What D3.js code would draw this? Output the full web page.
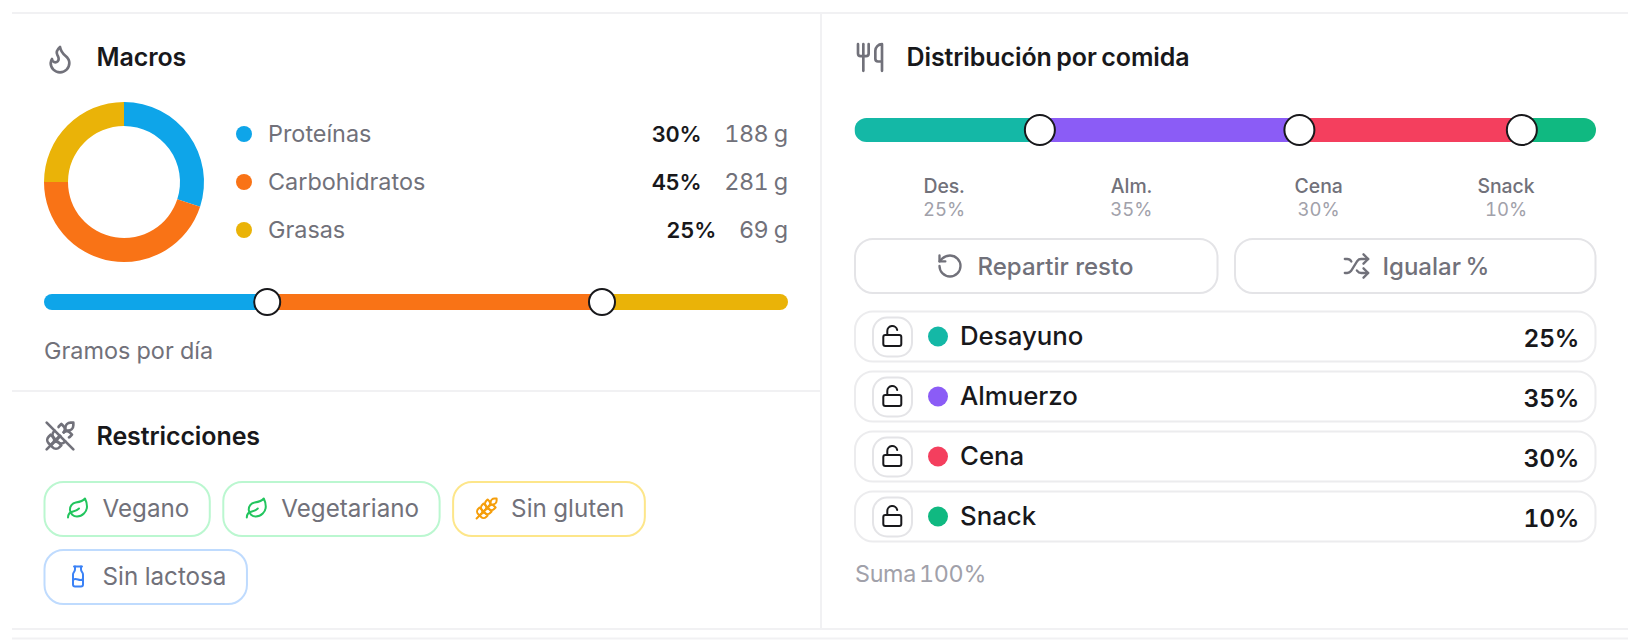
<!DOCTYPE html>
<html>
<head>
<meta charset="utf-8">
<script src="https://cdn.jsdelivr.net/npm/d3@7"></script>
<style>
  html, body { margin: 0; padding: 0; background: #fff; }
  svg { display: block; }
  text { font-family: Inter, sans-serif; font-variant-numeric: tabular-nums; }
</style>
</head>
<body>
<div id="chart"></div>
<script>
// Data
const macroNames = ["Proteínas", "Carbohidratos", "Grasas"];
const macroPct = [30, 45, 25];
const macroGrams = [188, 281, 69];
const macroColors = ["#0ea5e9", "#f97316", "#eab308"];

const mealNames = ["Desayuno", "Almuerzo", "Cena", "Snack"];
const mealShort = ["Des.", "Alm.", "Cena", "Snack"];
const mealPct = [25, 35, 30, 10];
const mealColors = ["#14b8a6", "#8b5cf6", "#f43f5e", "#10b981"];

const chipLabels = ["Vegano", "Vegetariano", "Sin gluten", "Sin lactosa"];
const chipIcons = ["leaf", "leaf", "wheat", "milk"];
const chipIconColors = ["#22c55e", "#22c55e", "#f59e0b", "#3b82f6"];
const chipBorders = ["#bbf7d0", "#bbf7d0", "#fde68a", "#bfdbfe"];

const icons = {
  flame: ["M8.5 14.5A2.5 2.5 0 0 0 11 12c0-1.38-.5-2-1-3-1.072-2.143-.224-4.054 2-6 .5 2.5 2 4.9 4 6.5 2 1.6 3 3.5 3 5.5a7 7 0 1 1-14 0c0-1.153.433-2.294 1-3a2.5 2.5 0 0 0 2.5 2.5z"],
  utensils: ["M3 2v7c0 1.1.9 2 2 2h4a2 2 0 0 0 2-2V2", "M7 2v20", "M21 15V2a5 5 0 0 0-5 5v6c0 1.1.9 2 2 2h3Zm0 0v7"],
  wheatOff: ["m2 22 10-10", "m16 8-1.17 1.17", "M3.47 12.53 5 11l1.53 1.53a3.5 3.5 0 0 1 0 4.94L5 19l-1.53-1.53a3.5 3.5 0 0 1 0-4.94Z", "m8 8-.53.53a3.5 3.5 0 0 0 0 4.94L9 15l1.53-1.53c.55-.55.88-1.25.98-1.97", "M10.91 5.26c.15-.26.34-.51.56-.73L13 3l1.53 1.53a3.5 3.5 0 0 1 .28 4.62", "M20 2h2v2a4 4 0 0 1-4 4h-2V6a4 4 0 0 1 4-4Z", "M11.47 17.47 13 19l-1.53 1.53a3.5 3.5 0 0 1-4.94 0L5 19l1.53-1.53a3.5 3.5 0 0 1 4.94 0Z", "m16 16-.53.53a3.5 3.5 0 0 1-4.94 0L9 15l1.53-1.53a3.49 3.49 0 0 1 1.97-.98", "M18.74 13.09c.26-.15.51-.34.73-.56L21 11l-1.53-1.53a3.5 3.5 0 0 0-4.62-.28", "M2 2l20 20"],
  wheat: ["M2 22 16 8", "M3.47 12.53 5 11l1.53 1.53a3.5 3.5 0 0 1 0 4.94L5 19l-1.53-1.53a3.5 3.5 0 0 1 0-4.94Z", "M7.47 8.53 9 7l1.53 1.53a3.5 3.5 0 0 1 0 4.94L9 15l-1.53-1.53a3.5 3.5 0 0 1 0-4.94Z", "M11.47 4.53 13 3l1.53 1.53a3.5 3.5 0 0 1 0 4.94L13 11l-1.53-1.53a3.5 3.5 0 0 1 0-4.94Z", "M20 2h2v2a4 4 0 0 1-4 4h-2V6a4 4 0 0 1 4-4Z", "M11.47 17.47 13 19l-1.53 1.53a3.5 3.5 0 0 1-4.94 0L5 19l1.53-1.53a3.5 3.5 0 0 1 4.94 0Z", "M15.47 13.47 17 15l-1.53 1.53a3.5 3.5 0 0 1-4.94 0L9 15l1.53-1.53a3.5 3.5 0 0 1 4.94 0Z", "M19.47 9.47 21 11l-1.53 1.53a3.5 3.5 0 0 1-4.94 0L13 11l1.53-1.53a3.5 3.5 0 0 1 4.94 0Z"],
  leaf: ["M11 20A7 7 0 0 1 9.8 6.1C15.5 5 17 4.48 19 2c1 2 2 4.18 2 8 0 5.5-4.78 10-10 10Z", "M2 21c0-3 1.85-5.36 5.08-6C9.5 14.52 12 13 13 12"],
  milk: ["M8 2h8", "M9 2v2.789a4 4 0 0 1-.672 2.219l-.656.984A4 4 0 0 0 7 10.212V20a2 2 0 0 0 2 2h6a2 2 0 0 0 2-2v-9.789a4 4 0 0 0-.672-2.219l-.656-.984A4 4 0 0 1 15 4.788V2", "M7 15a6.472 6.472 0 0 1 5 0 6.47 6.47 0 0 0 5 0"],
  rotate: ["M3 12a9 9 0 1 0 9-9 9.75 9.75 0 0 0-6.74 2.74L3 8", "M3 3v5h5"],
  shuffle: ["m18 14 4 4-4 4", "m18 2 4 4-4 4", "M2 18h1.973a4 4 0 0 0 3.3-1.7l5.454-8.6a4 4 0 0 1 3.3-1.7H22", "M2 6h1.972a4 4 0 0 1 3.6 2.2", "M22 18h-6.041a4 4 0 0 1-3.3-1.8l-.359-.45"],
  lockOpen: ["M5 11h14a2 2 0 0 1 2 2v7a2 2 0 0 1-2 2H5a2 2 0 0 1-2-2v-7a2 2 0 0 1 2-2Z", "M7 11V7a5 5 0 0 1 9.9-1"]
};

const ink = "#18181b", gray = "#71717a", faint = "#a1a1aa", rule = "#f1f1f3", edge = "#ececee";

const svg = d3.select("#chart").append("svg")
    .attr("width", 1640)
    .attr("height", 642);

svg.append("rect").attr("width", 1640).attr("height", 642).attr("fill", "#fff");

function drawIcon(name, cx, cy, size, color) {
  const k = size / 24;
  const g = svg.append("g")
      .attr("transform", `translate(${cx - size / 2},${cy - size / 2}) scale(${k})`)
      .attr("fill", "none")
      .attr("stroke", color)
      .attr("stroke-width", 2)
      .attr("stroke-linecap", "round")
      .attr("stroke-linejoin", "round");
  g.selectAll("path").data(icons[name]).join("path").attr("d", d => d);
}

function label(txt, x, y, size, color, weight, anchor) {
  return svg.append("text")
      .attr("x", x)
      .attr("y", y)
      .attr("dy", "0.35em")
      .attr("font-size", size)
      .attr("font-weight", weight || 400)
      .attr("fill", color)
      .attr("text-anchor", anchor || "start")
      .text(txt);
}

function title(txt, x, y) {
  return label(txt, x, y, 25, ink, 600)
      .attr("letter-spacing", -0.1)
      .attr("word-spacing", -2);
}

// Stacked pill with one handle on each inner boundary
function splitBar(id, values, colors, x0, x1, cy, h, handleR) {
  const x = d3.scaleLinear().domain([0, d3.sum(values)]).range([x0, x1]);
  const stops = [0, ...d3.cumsum(values)];
  svg.append("clipPath").attr("id", id)
    .append("rect")
      .attr("x", x0).attr("y", cy - h / 2)
      .attr("width", x1 - x0).attr("height", h)
      .attr("rx", h / 2);
  svg.append("g").attr("clip-path", `url(#${id})`)
    .selectAll("rect")
    .data(values)
    .join("rect")
      .attr("x", (d, i) => x(stops[i]))
      .attr("y", cy - h / 2)
      .attr("width", d => x(d) - x(0))
      .attr("height", h)
      .attr("fill", (d, i) => colors[i]);
  svg.append("g")
    .selectAll("circle")
    .data(stops.slice(1, -1))
    .join("circle")
      .attr("cx", d => x(d))
      .attr("cy", cy)
      .attr("r", handleR)
      .attr("fill", "#fff")
      .attr("stroke", ink)
      .attr("stroke-width", 2);
}

// Frame lines
const frame = [[12, 13, 1628, 13], [12, 391, 821, 391], [12, 629, 1628, 629], [12, 638.5, 1628, 638.5], [821, 13, 821, 629]];
svg.append("g").selectAll("line").data(frame).join("line")
    .attr("x1", d => d[0]).attr("y1", d => d[1])
    .attr("x2", d => d[2]).attr("y2", d => d[3])
    .attr("stroke", rule).attr("stroke-width", 2);

// Macros panel
drawIcon("flame", 60, 59, 32, gray);
title("Macros", 96.5, 57);

const pie = d3.pie().sort(null).value(d => d);
const arc = d3.arc().innerRadius(56).outerRadius(80);
svg.append("g").attr("transform", "translate(124,182)")
  .selectAll("path")
  .data(pie(macroPct))
  .join("path")
    .attr("d", arc)
    .attr("fill", (d, i) => macroColors[i]);

const macroY = d3.scalePoint().domain(macroNames).range([134, 230]);
macroNames.forEach((name, i) => {
  const y = macroY(name);
  svg.append("circle").attr("cx", 244).attr("cy", y).attr("r", 8).attr("fill", macroColors[i]);
  label(name, 268, y, 23.4, gray);
  const grams = label(macroGrams[i] + " g", 787.5, y, 23.4, gray, 400, "end").attr("letter-spacing", -0.6);
  const gramW = grams.node().getComputedTextLength();
  label(macroPct[i] + "%", 787.5 - gramW - 23, y, 22, ink, 600, "end").attr("letter-spacing", -0.3);
});

splitBar("macro-clip", macroPct, macroColors, 44, 788, 302, 16, 13);
label("Gramos por día", 44, 351, 23.4, gray);

// Restrictions panel
drawIcon("wheatOff", 60, 436, 32, gray);
title("Restricciones", 96.5, 436);

let chipX = 44.5, chipY = 482;
chipLabels.forEach((txt, i) => {
  if (i == 3) { chipX = 44.5; chipY = 550; }
  const t = label(txt, chipX + 58, chipY + 26.5, 24.2, gray);
  const w = 58 + t.node().getComputedTextLength() + 20.5;
  svg.append("rect")
      .attr("x", chipX).attr("y", chipY)
      .attr("width", w).attr("height", 54)
      .attr("rx", 19)
      .attr("fill", "none")
      .attr("stroke", chipBorders[i])
      .attr("stroke-width", 2);
  drawIcon(chipIcons[i], chipX + 33.5, chipY + 26.5, 24, chipIconColors[i]);
  chipX += w + 13.5;
});

// Meals panel
drawIcon("utensils", 870, 57.5, 32, gray);
title("Distribución por comida", 906.5, 57);

splitBar("meal-clip", mealPct, mealColors, 854.5, 1596, 130, 24, 15);

const mealX = d3.scalePoint().domain(mealShort).range([944, 1506]);
mealShort.forEach((s, i) => {
  label(s, mealX(s), 186, 19.4, gray, 500, "middle");
  label(mealPct[i] + "%", mealX(s), 210, 18.5, faint, 400, "middle");
});

const buttons = [
  { x: 855, w: 362.5, icon: "rotate", ix: 950, tx: 977.5, txt: "Repartir resto", ws: 0 },
  { x: 1235, w: 360.5, icon: "shuffle", ix: 1356.5, tx: 1382.5, txt: "Igualar %", ws: -2 }
];
buttons.forEach(b => {
  svg.append("rect")
      .attr("x", b.x).attr("y", 239)
      .attr("width", b.w).attr("height", 54)
      .attr("rx", 18)
      .attr("fill", "#fff")
      .attr("stroke", "#e4e4e7")
      .attr("stroke-width", 2);
  drawIcon(b.icon, b.ix, 266, 28, gray);
  label(b.txt, b.tx, 267, 24, gray, 500).attr("word-spacing", b.ws);
});

const rowY = d3.scalePoint().domain(mealNames).range([336.5, 516.5]);
mealNames.forEach((name, i) => {
  const y = rowY(name);
  svg.append("rect")
      .attr("x", 855).attr("y", y - 25)
      .attr("width", 740.5).attr("height", 50)
      .attr("rx", 18)
      .attr("fill", "#fff")
      .attr("stroke", edge)
      .attr("stroke-width", 2);
  svg.append("rect")
      .attr("x", 873).attr("y", y - 19)
      .attr("width", 39).attr("height", 39)
      .attr("rx", 14)
      .attr("fill", "#fff")
      .attr("stroke", "#e4e4e7")
      .attr("stroke-width", 2);
  drawIcon("lockOpen", 892.3, y - 0.5, 24, ink);
  svg.append("circle").attr("cx", 938).attr("cy", y).attr("r", 10).attr("fill", mealColors[i]);
  label(name, 960, y - 0.5, 25.8, ink, 500);
  label(mealPct[i] + "%", 1579, y + 1.5, 24.5, ink, 600, "end").attr("letter-spacing", -0.3);
});

label("Suma " + d3.sum(mealPct) + "%", 855, 574, 23.3, faint)
    .attr("letter-spacing", -0.3)
    .attr("word-spacing", -3);
</script>
</body>
</html>
